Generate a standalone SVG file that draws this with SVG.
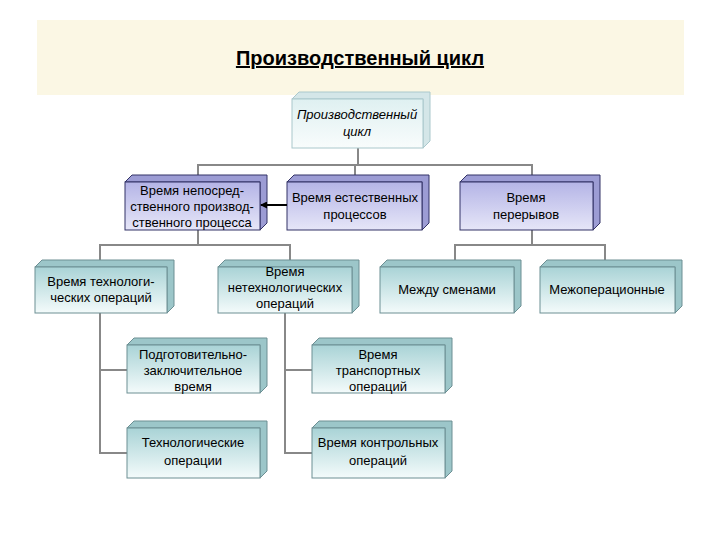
<svg xmlns="http://www.w3.org/2000/svg" width="720" height="540" viewBox="0 0 720 540">
<defs>
<linearGradient id="gt" x1="0" y1="0" x2="0" y2="1"><stop offset="0" stop-color="#a9d3d6"/><stop offset="1" stop-color="#f4fbfb"/></linearGradient>
<linearGradient id="gp" x1="0" y1="0" x2="0" y2="1"><stop offset="0" stop-color="#b4b4e6"/><stop offset="1" stop-color="#e6e6f8"/></linearGradient>
<linearGradient id="gr" x1="0" y1="0" x2="0" y2="1"><stop offset="0" stop-color="#dff0f1"/><stop offset="1" stop-color="#f8fcfc"/></linearGradient>
<marker id="ar" markerWidth="7" markerHeight="7" refX="6" refY="3.5" orient="auto" markerUnits="userSpaceOnUse"><path d="M0,0 L7,3.5 L0,7 Z" fill="#000"/></marker>
</defs>
<style>
text{font-family:"Liberation Sans",Arial,sans-serif;font-size:13px;fill:#000;text-anchor:middle}
.t rect{fill:url(#gt);stroke:#6c8f93;stroke-width:1}
.t .s{fill:#9cc6c9;stroke:#6c8f93;stroke-width:1}
.p rect{fill:url(#gp);stroke:#333366;stroke-width:1}
.p .s{fill:#9c9cd4;stroke:#333366;stroke-width:1}
.r rect{fill:url(#gr);stroke:#aac8cc;stroke-width:1}
.r .s{fill:#d4e6e8;stroke:#aac8cc;stroke-width:1}
.c line,.c polyline{stroke:#888;stroke-width:2;fill:none}
</style>
<rect x="37" y="20" width="647" height="75" fill="#fbf7e4"/>
<text x="360" y="65" style="font-size:20px;font-weight:bold" text-decoration="underline">Производственный цикл</text>
<g id="connectors" class="c">
<polyline points="358,148 358,165"/>
<polyline points="198,175 198,165 532,165 532,175"/>
<line x1="355" y1="165" x2="355" y2="175"/>
<polyline points="198,230 198,245"/>
<polyline points="100,260 100,245 290,245 290,260"/>
<polyline points="532,230 532,245"/>
<polyline points="455,260 455,245 605,245 605,260"/>
<polyline points="100,313 100,453 127,453"/>
<line x1="100" y1="370" x2="127" y2="370"/>
<polyline points="285,313 285,453 312,453"/>
<line x1="285" y1="370" x2="312" y2="370"/>
</g>
<g id="root" class="r">
<path class="s" d="M292,99 l7,-7 h131 v49 l-7,7 v-49 Z"/>
<rect x="292" y="99" width="131" height="49"/>
<text x="357" y="119" font-style="italic">Производственный</text><text x="357" y="136" font-style="italic">цикл</text>
</g>
<g id="n1" class="p">
<path class="s" d="M125,182 l7,-7 h135 v48 l-7,7 v-48 Z"/>
<rect x="125" y="182" width="135" height="48"/>
<text x="192" y="195">Время непосред-</text><text x="192" y="211">ственного производ-</text><text x="192" y="227">ственного процесса</text>
</g>
<g id="n2" class="p">
<path class="s" d="M287,182 l7,-7 h135 v48 l-7,7 v-48 Z"/>
<rect x="287" y="182" width="135" height="48"/>
<text x="355" y="202">Время естественных</text><text x="355" y="219">процессов</text>
</g>
<g id="n3" class="p">
<path class="s" d="M460,182 l7,-7 h133 v48 l-7,7 v-48 Z"/>
<rect x="460" y="182" width="133" height="48"/>
<text x="526" y="202">Время</text><text x="526" y="219">перерывов</text>
</g>
<g id="n4" class="t">
<path class="s" d="M35,267 l7,-7 h132 v46 l-7,7 v-46 Z"/>
<rect x="35" y="267" width="132" height="46"/>
<text x="101" y="286">Время технологи-</text><text x="101" y="302">ческих операций</text>
</g>
<g id="n5" class="t">
<path class="s" d="M218,267 l7,-7 h134 v46 l-7,7 v-46 Z"/>
<rect x="218" y="267" width="134" height="46"/>
<text x="285" y="276">Время</text><text x="285" y="292">нетехнологических</text><text x="285" y="308">операций</text>
</g>
<g id="n6" class="t">
<path class="s" d="M380,267 l7,-7 h134 v46 l-7,7 v-46 Z"/>
<rect x="380" y="267" width="134" height="46"/>
<text x="447" y="294">Между сменами</text>
</g>
<g id="n7" class="t">
<path class="s" d="M540,267 l7,-7 h135 v46 l-7,7 v-46 Z"/>
<rect x="540" y="267" width="135" height="46"/>
<text x="607" y="294">Межоперационные</text>
</g>
<g id="n8" class="t">
<path class="s" d="M127,345 l7,-7 h133 v48 l-7,7 v-48 Z"/>
<rect x="127" y="345" width="133" height="48"/>
<text x="193" y="359">Подготовительно-</text><text x="193" y="375">заключительное</text><text x="193" y="391">время</text>
</g>
<g id="n9" class="t">
<path class="s" d="M312,345 l7,-7 h133 v48 l-7,7 v-48 Z"/>
<rect x="312" y="345" width="133" height="48"/>
<text x="378" y="359">Время</text><text x="378" y="375">транспортных</text><text x="378" y="391">операций</text>
</g>
<g id="n10" class="t">
<path class="s" d="M127,428 l7,-7 h133 v50 l-7,7 v-50 Z"/>
<rect x="127" y="428" width="133" height="50"/>
<text x="193" y="447">Технологические</text><text x="193" y="465">операции</text>
</g>
<g id="n11" class="t">
<path class="s" d="M312,428 l7,-7 h133 v50 l-7,7 v-50 Z"/>
<rect x="312" y="428" width="133" height="50"/>
<text x="378" y="447">Время контрольных</text><text x="378" y="465">операций</text>
</g>
<g id="arrows">
<line x1="287" y1="205" x2="261" y2="205" stroke="#000" stroke-width="2" marker-end="url(#ar)"/>
</g>
</svg>
